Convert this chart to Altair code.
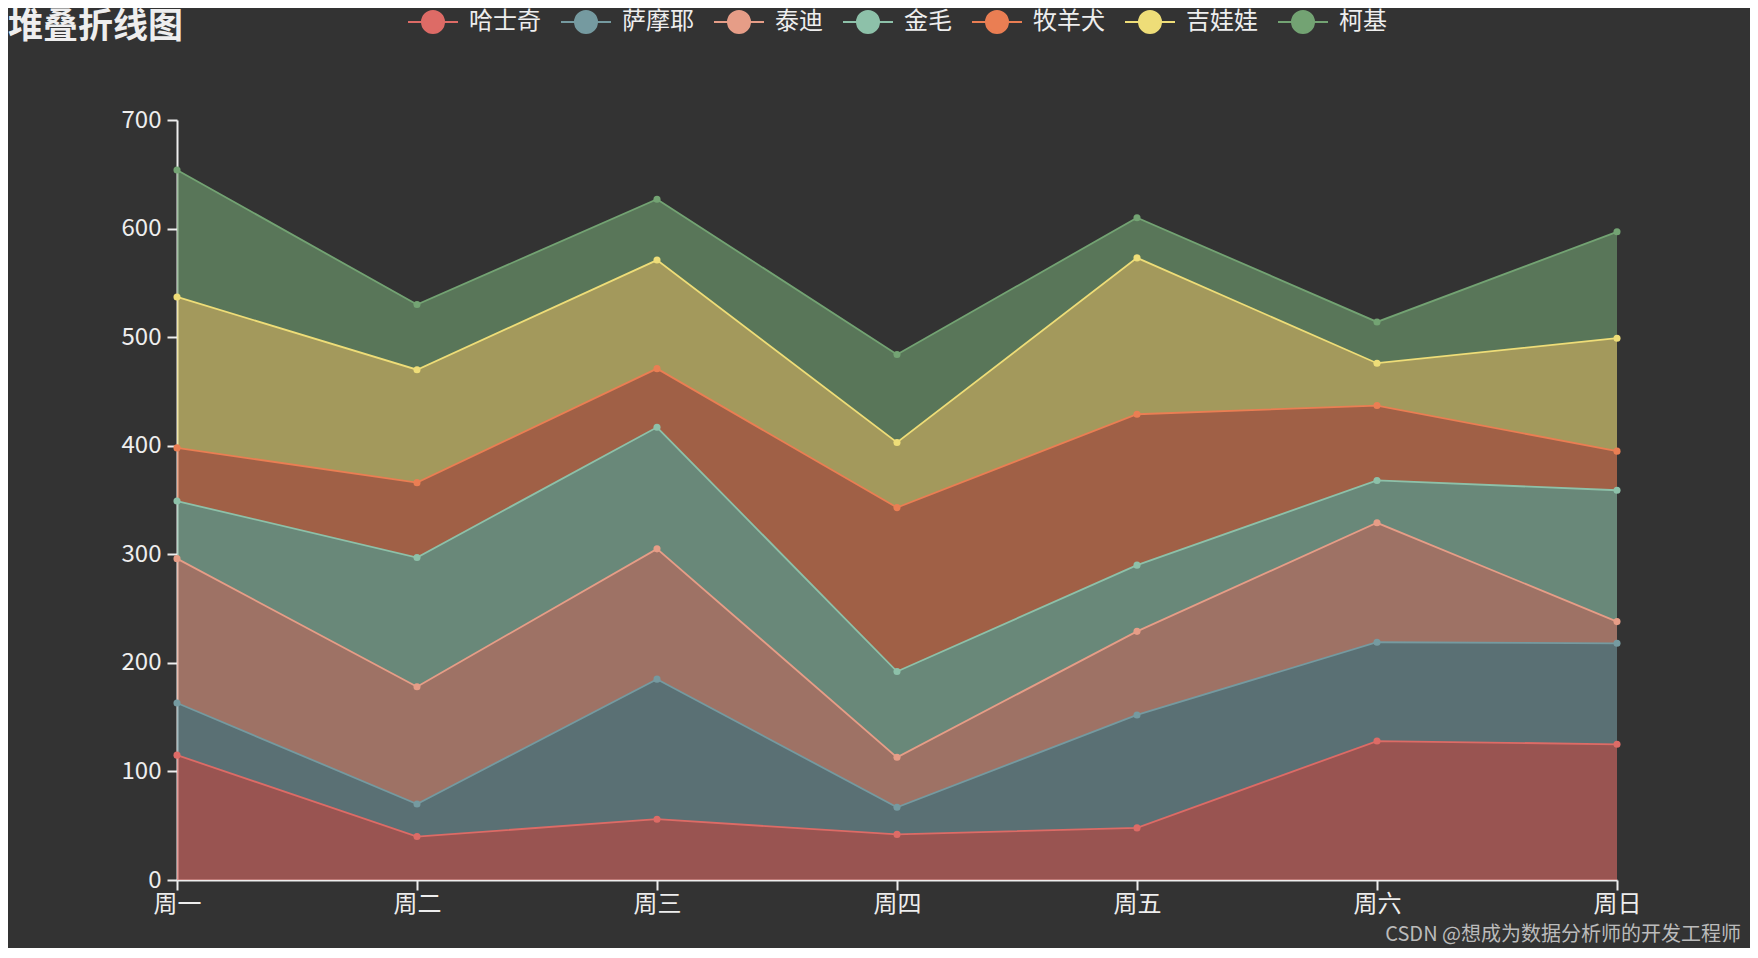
import altair as alt
import pandas as pd

days = ["周一", "周二", "周三", "周四", "周五", "周六", "周日"]
series_names = ["哈士奇", "萨摩耶", "泰迪", "金毛", "牧羊犬", "吉娃娃", "柯基"]
husky = [115, 40, 56, 42, 48, 128, 125]
samoyed = [48, 30, 129, 25, 104, 91, 93]
teddy = [133, 108, 120, 46, 77, 110, 20]
golden = [53, 119, 112, 79, 61, 39, 121]
shepherd = [49, 69, 54, 151, 139, 69, 36]
chihuahua = [139, 104, 100, 60, 144, 39, 104]
corgi = [117, 60, 56, 81, 37, 38, 98]
colors = ["#dd6b66", "#759aa0", "#e69d87", "#8dc1a9", "#ea7e53", "#eedd78", "#73a373"]
y_ticks = [0, 100, 200, 300, 400, 500, 600, 700]
title_text = "堆叠折线图"
watermark_text = "CSDN @想成为数据分析师的开发工程师"

all_values = [husky, samoyed, teddy, golden, shepherd, chihuahua, corgi]
rows = []
for i, (name, vals) in enumerate(zip(series_names, all_values)):
    for d, v in zip(days, vals):
        rows.append({"day": d, "series": name, "value": v, "idx": i})
df = pd.DataFrame(rows)

FONT = "Noto Sans CJK SC"
TXT = "#eeeeee"

legend_path = ("M-1,0L-0.44,0M0.44,0L1,0"
               "M-0.44,0A0.44,0.44,0,1,1,0.44,0A0.44,0.44,0,1,1,-0.44,0Z")

legend_common = dict(
    orient="none", direction="horizontal", legendX=230, legendY=-124,
    title=None, symbolType=legend_path, symbolSize=2500, symbolStrokeWidth=2,
    symbolOpacity=1, labelFontSize=24, labelColor=TXT, labelFont=FONT,
    labelOffset=10, columnPadding=16, labelLimit=300,
)

base = alt.Chart(df).transform_stack(
    stack="value", groupby=["day"],
    sort=[alt.SortField("idx", order="ascending")],
    as_=["y0", "y1"],
)

x_enc = alt.X(
    "day:N", sort=days,
    scale=alt.Scale(type="point", domain=days, padding=0),
    axis=alt.Axis(title=None, labelAngle=0, labelFontSize=24, labelColor=TXT,
                  labelFont=FONT, domainColor=TXT, tickColor=TXT, domainWidth=2,
                  tickWidth=2, tickSize=10, labelPadding=2, grid=False),
)
y_enc = alt.Y(
    "y1:Q", scale=alt.Scale(domain=[0, 700], nice=False),
    axis=alt.Axis(title=None, values=y_ticks, labelFontSize=24, labelColor=TXT,
                  labelFont=FONT, domainColor=TXT, tickColor=TXT, domainWidth=2,
                  tickWidth=2, tickSize=10, labelPadding=6, grid=False),
)
fill_scale = alt.Scale(domain=series_names, range=colors)

area = base.mark_area(fillOpacity=0.6, strokeWidth=0).encode(
    x=x_enc, y=y_enc, y2="y0:Q",
    fill=alt.Fill("series:N", scale=fill_scale, legend=alt.Legend(**legend_common)),
    order=alt.Order("idx:Q"),
)
line = base.mark_line(strokeWidth=1.8).encode(
    x=x_enc, y=y_enc,
    stroke=alt.Stroke("series:N", scale=fill_scale, legend=alt.Legend(**legend_common)),
    detail="series:N",
)
points = base.mark_point(filled=True, size=50, opacity=1).encode(
    x=x_enc, y=y_enc,
    fill=alt.Fill("series:N", scale=fill_scale, legend=alt.Legend(**legend_common)),
)

title_layer = alt.Chart(pd.DataFrame({"t": [title_text]})).mark_text(
    align="left", baseline="middle", fontSize=35, fontWeight="bold",
    color=TXT, font=FONT,
).encode(text="t:N", x=alt.value(-169), y=alt.value(-93))

wm_layer = alt.Chart(pd.DataFrame({"t": [watermark_text]})).mark_text(
    align="right", baseline="middle", fontSize=20, color="#bbbbbb", font=FONT,
).encode(text="t:N", x=alt.value(1564), y=alt.value(815))

chart = alt.layer(area, line, points, title_layer, wm_layer).properties(
    width=1440, height=760,
    background="#333333",
    padding={"left": 169, "top": 112, "right": 133, "bottom": 68},
    autosize=alt.AutoSizeParams(type="none"),
).configure_view(stroke=None)

chart.save("out.html", embed_options={"renderer": "svg", "actions": False})
